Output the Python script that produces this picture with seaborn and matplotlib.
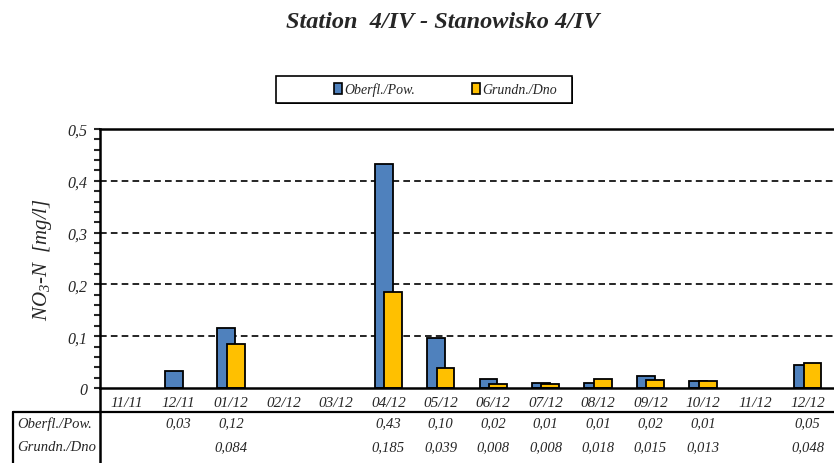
import numpy as np
import pandas as pd
import matplotlib
matplotlib.use("Agg")
import matplotlib.pyplot as plt
import matplotlib.transforms as mtransforms
from matplotlib.lines import Line2D
from matplotlib.patches import Patch, Rectangle
from matplotlib.ticker import MultipleLocator, FuncFormatter
import seaborn as sns

# Data
months = ["11/11", "12/11", "01/12", "02/12", "03/12", "04/12", "05/12",
          "06/12", "07/12", "08/12", "09/12", "10/12", "11/12", "12/12"]
surface = [np.nan, 0.033, 0.115, np.nan, np.nan, 0.432, 0.097,
           0.018, 0.010, 0.010, 0.024, 0.014, np.nan, 0.044]
bottom = [np.nan, np.nan, 0.084, np.nan, np.nan, 0.185, 0.039,
          0.008, 0.008, 0.018, 0.015, 0.013, np.nan, 0.048]
surface_labels = ["", "0,03", "0,12", "", "", "0,43", "0,10",
                  "0,02", "0,01", "0,01", "0,02", "0,01", "", "0,05"]
bottom_labels = ["", "", "0,084", "", "", "0,185", "0,039",
                 "0,008", "0,008", "0,018", "0,015", "0,013", "", "0,048"]
series_names = ["Oberfl./Pow.", "Grundn./Dno"]
series_colors = ["#4F81BD", "#FFC000"]

sns.set_style("ticks")
plt.rcParams["font.family"] = ["Liberation Serif", "DejaVu Serif"]
plt.rcParams["mathtext.fontset"] = "custom"
plt.rcParams["mathtext.rm"] = "Liberation Serif:italic"
plt.rcParams["mathtext.it"] = "Liberation Serif:italic"

W, H = 834, 464
fig = plt.figure(figsize=(W / 100, H / 100), dpi=100)
ax = fig.add_axes([100 / W, 75 / H, 734 / W, 259 / H])

# Bars: two overlapping series
bar_w = 0.34
shift = 0.09
sns.barplot(x=months, y=surface, order=months, color=series_colors[0],
            width=bar_w, edgecolor="black", linewidth=1.3, saturation=1,
            errorbar=None, ax=ax)
n_first = len(ax.patches)
sns.barplot(x=months, y=bottom, order=months, color=series_colors[1],
            width=bar_w, edgecolor="black", linewidth=1.3, saturation=1,
            errorbar=None, ax=ax)
for k, p in enumerate(ax.patches):
    p.set_x(p.get_x() + (-shift if k < n_first else shift))

# Axes styling
ax.set_xlim(-0.5, len(months) - 0.5)
ax.set_ylim(0, 0.5)
ax.yaxis.set_major_locator(MultipleLocator(0.1))
ax.yaxis.set_minor_locator(MultipleLocator(0.02))
ax.yaxis.set_major_formatter(FuncFormatter(
    lambda v, _: "0" if abs(v) < 1e-9 else f"{v:.1f}".replace(".", ",")))
ax.tick_params(axis="y", which="both", direction="out", length=4, width=1.5,
               labelsize=11.5, pad=5)
for t in ax.get_yticklabels():
    t.set_style("italic")
ax.tick_params(axis="x", length=0, labelsize=11, pad=6)
ax.set_xticks(range(len(months)))
ax.set_xticklabels(months, style="italic")
ax.set_xlabel("")
ax.set_ylabel("NO$_3$-N  [mg/l]", fontsize=15, style="italic", labelpad=10)

for y in [0.1, 0.2, 0.3, 0.4, 0.5]:
    ax.axhline(y, color="black", lw=1.2, ls=(0, (4, 2.5)), zorder=0)

ax.spines["right"].set_visible(False)
ax.spines["top"].set_visible(True)
for s in ["left", "bottom", "top"]:
    ax.spines[s].set_linewidth(1.8)
    ax.spines[s].set_color("black")

# Data table under the chart
fy = lambda py: 1 - py / H
fx = lambda px: px / W
fig.add_artist(Line2D([fx(13), 1], [fy(413)] * 2, color="black", lw=1.6))
fig.add_artist(Line2D([fx(100)] * 2, [0, fy(389)], color="black", lw=1.8))
fig.add_artist(Line2D([fx(13)] * 2, [0, fy(413)], color="black", lw=1.6))

trans = mtransforms.blended_transform_factory(ax.transData, fig.transFigure)
for row_y, name, labels in [(424, series_names[0], surface_labels),
                            (448, series_names[1], bottom_labels)]:
    fig.text(fx(17), fy(row_y), name, fontsize=10.5, style="italic",
             ha="left", va="center")
    for i, lab in enumerate(labels):
        if lab:
            ax.text(i, fy(row_y), lab, transform=trans, fontsize=10.5,
                    style="italic", ha="center", va="center")

# Legend box (with a dark drop edge) and entries
fig.add_artist(Rectangle((fx(277), fy(105)), fx(296), 27 / H,
                         transform=fig.transFigure, facecolor="black",
                         edgecolor="none", zorder=4))
fig.add_artist(Rectangle((fx(276), fy(104)), fx(296), 27 / H,
                         transform=fig.transFigure, facecolor="white",
                         edgecolor="black", lw=1.2, zorder=5))
handles = [Patch(facecolor=c, edgecolor="black", linewidth=1.2, label=n)
           for c, n in zip(series_colors, series_names)]
leg = fig.legend(handles=handles, loc="center left", ncol=2,
                 bbox_to_anchor=(fx(334), fy(90.5)), frameon=False,
                 prop={"style": "italic", "size": 10},
                 handlelength=0.55, handleheight=0.8, handletextpad=0.2,
                 columnspacing=4.1, borderpad=0, borderaxespad=0)
leg.set_zorder(6)

fig.text(fx(443), fy(22), "Station  4/IV - Stanowisko 4/IV", fontsize=17.5,
         fontweight="bold", style="italic", ha="center", va="center")

fig.savefig("out.png", dpi=100)
